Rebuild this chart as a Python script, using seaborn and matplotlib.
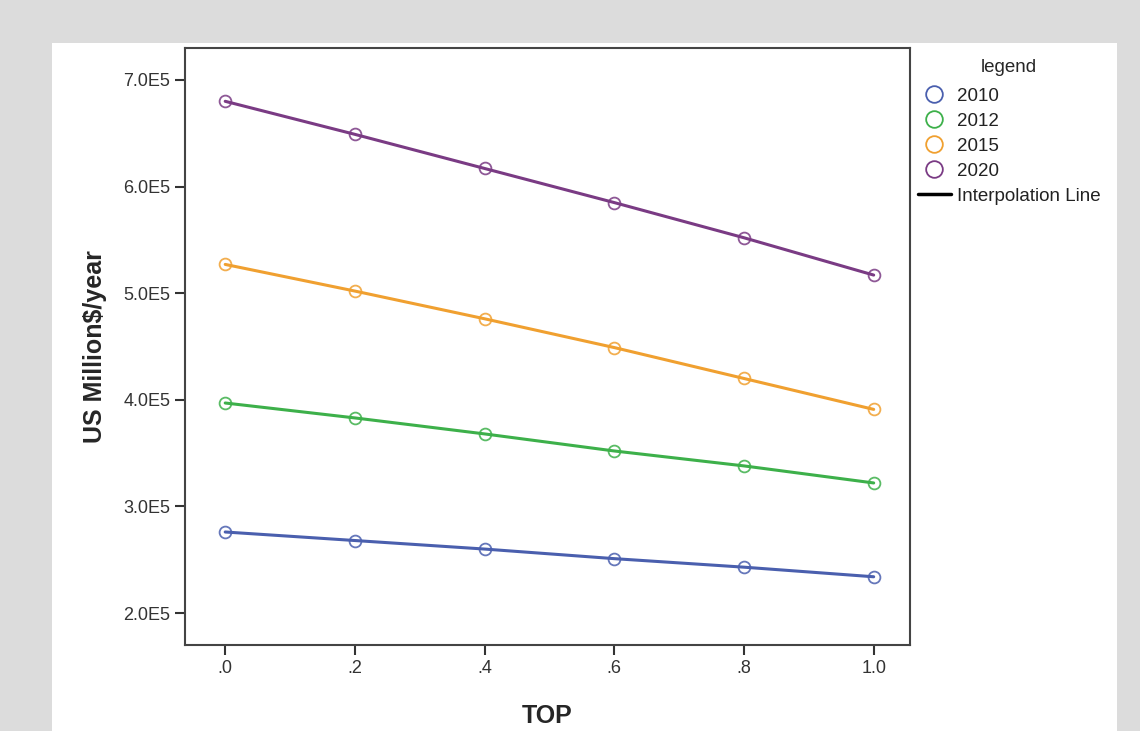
import pandas as pd
import matplotlib
matplotlib.use('Agg')
import matplotlib.pyplot as plt
import matplotlib.patches as mpatches
from matplotlib.lines import Line2D
import seaborn as sns

# Values
top = [0.0, 0.2, 0.4, 0.6, 0.8, 1.0]
y2010 = [2.76e5, 2.68e5, 2.60e5, 2.51e5, 2.43e5, 2.34e5]
y2012 = [3.97e5, 3.83e5, 3.68e5, 3.52e5, 3.38e5, 3.22e5]
y2015 = [5.27e5, 5.02e5, 4.76e5, 4.49e5, 4.20e5, 3.91e5]
y2020 = [6.80e5, 6.49e5, 6.17e5, 5.85e5, 5.52e5, 5.17e5]
years = ['2010', '2012', '2015', '2020']
colors = ['#4a5fae', '#3db04a', '#f0a030', '#7a3b84']
yticks = [2.0e5, 3.0e5, 4.0e5, 5.0e5, 6.0e5, 7.0e5]
ytick_labels = ['2.0E5', '3.0E5', '4.0E5', '5.0E5', '6.0E5', '7.0E5']
xticks = [0.0, 0.2, 0.4, 0.6, 0.8, 1.0]
xtick_labels = ['.0', '.2', '.4', '.6', '.8', '1.0']

# long table for seaborn
series = [y2010, y2012, y2015, y2020]
rows = []
for yr, vals in zip(years, series):
    for x, v in zip(top, vals):
        rows.append({'TOP': x, 'value': v, 'year': yr})
df = pd.DataFrame(rows)

sns.set_style('white')
plt.rcParams['font.family'] = ['Liberation Sans', 'DejaVu Sans']

fig = plt.figure(figsize=(11.4, 7.31), dpi=100, facecolor='#dcdcdc')
# white panel behind the chart
fig.patches.append(mpatches.Rectangle((52 / 1140, 0), (1117 - 52) / 1140, (731 - 43) / 731,
                                      transform=fig.transFigure, facecolor='white',
                                      edgecolor='none', zorder=-10))
ax = fig.add_axes([185 / 1140, 1 - 645 / 731, (910 - 185) / 1140, (645 - 48) / 731])
ax.set_facecolor('white')

palette = dict(zip(years, colors))
sns.lineplot(data=df, x='TOP', y='value', hue='year', palette=palette, ax=ax,
             linewidth=2.2, legend=False)
# open circle markers on top
for yr, vals in zip(years, series):
    ax.plot(top, vals, linestyle='none', marker='o', markersize=8.5,
            markerfacecolor='none', markeredgecolor=palette[yr], markeredgewidth=1.3,
            alpha=0.85)

ax.set_xlim(-0.062, 1.056)
ax.set_ylim(1.70e5, 7.30e5)
ax.set_xticks(xticks)
ax.set_xticklabels(xtick_labels)
ax.set_yticks(yticks)
ax.set_yticklabels(ytick_labels)
ax.tick_params(axis='both', direction='out', length=7, width=1.5, color='#333333',
               labelsize=13, labelcolor='#333333', left=True, bottom=True)
for s in ax.spines.values():
    s.set_color('#444444')
    s.set_linewidth(1.5)

ax.set_xlabel('TOP', fontsize=18, fontweight='bold', labelpad=20)
ax.set_ylabel(r'US Million\$/year', fontsize=18, fontweight='bold', labelpad=12)

# legend
handles = [Line2D([], [], linestyle='none', marker='o', markersize=12,
                  markerfacecolor='none', markeredgecolor=c, markeredgewidth=1.3)
           for c in colors]
handles.append(Line2D([], [], color='black', linewidth=2.5))
labels = years + ['Interpolation Line']
leg = fig.legend(handles, labels, title='legend', loc='upper left',
                 bbox_to_anchor=(910 / 1140, 1 - 52 / 731), frameon=False,
                 fontsize=13.5, title_fontsize=13.5, labelspacing=0.42,
                 handlelength=1.8, handletextpad=0.3, borderaxespad=0)
leg._legend_box.sep = 8
for t in leg.get_texts():
    t.set_color('#222222')

fig.savefig('out.png', dpi=100, facecolor=fig.get_facecolor())
